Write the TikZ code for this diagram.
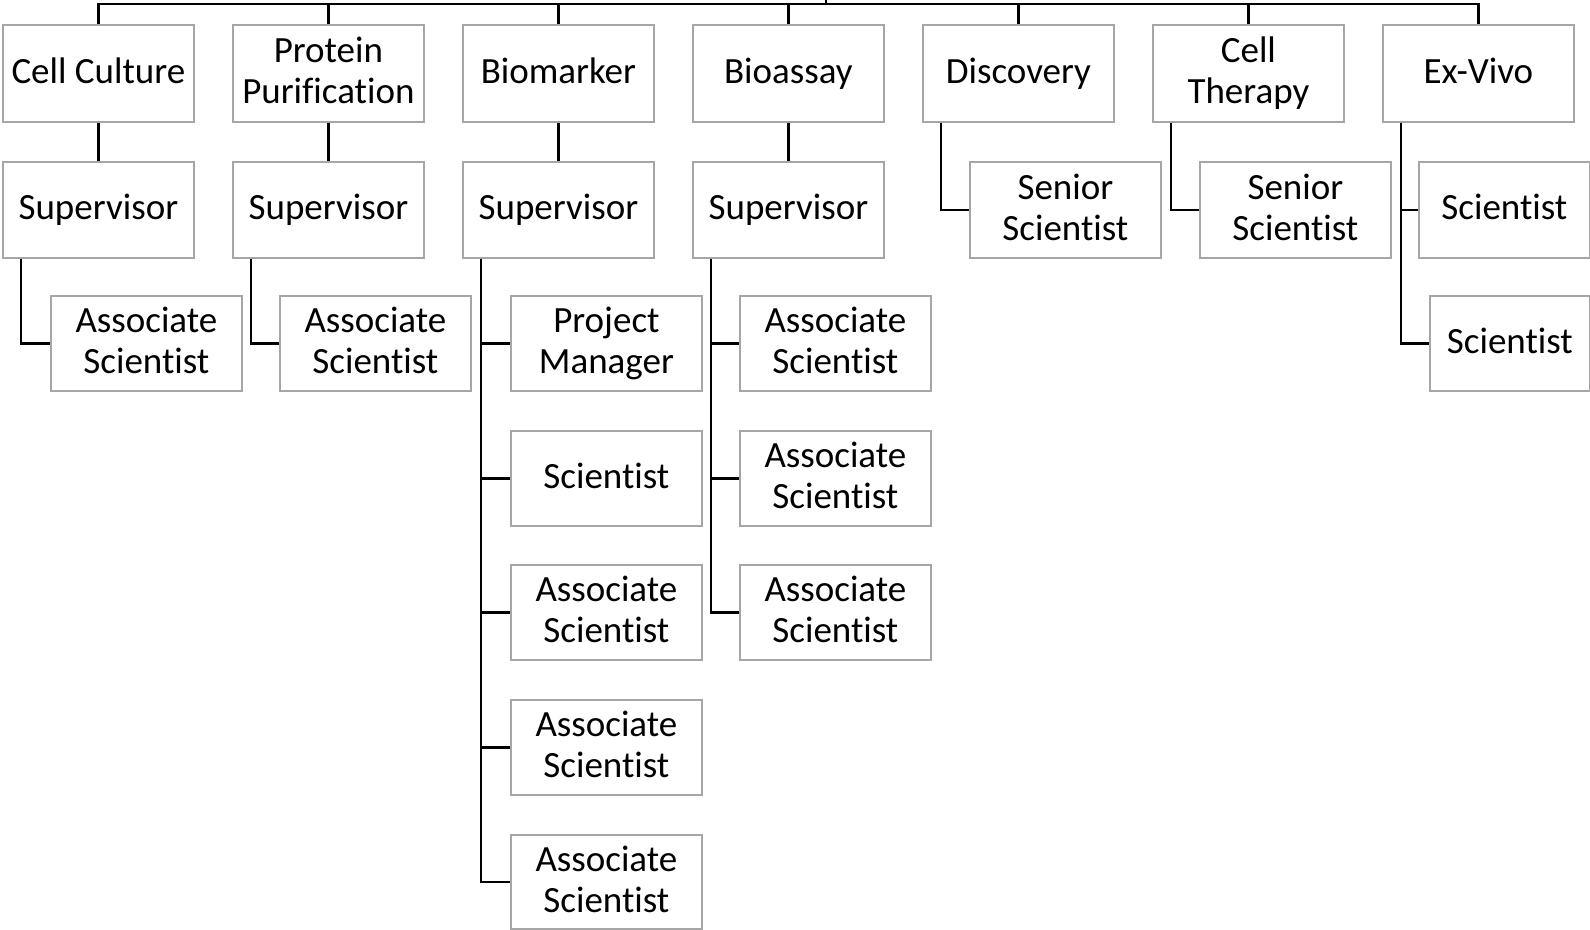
\documentclass[tikz,border=0pt]{standalone}
\usepackage{fontspec}
\setmainfont[Ligatures={NoCommon}]{Carlito}
\newcommand\nolig{\kern0pt }
\definecolor{boxgray}{RGB}{166,166,166}
\begin{document}
\begin{tikzpicture}[x=1pt,y=-1pt,
  orgbox/.style={draw=boxgray,line width=1.8pt,fill=white,anchor=north west,
    inner sep=0pt,align=center,minimum width=191pt,minimum height=96pt,
    font=\fontsize{37}{41}\selectfont,execute at begin node={\vphantom{p}}},
  link/.style={draw=black,line width=2.6pt}]
\useasboundingbox (0,0) rectangle (1590,929);
% top row
\node[orgbox,minimum height=97pt] (cc)  at (2,24)    {Cell Culture};
\node[orgbox,minimum height=97pt] (pp)  at (232,24)  {Protein\\Puri\nolig fication};
\node[orgbox,minimum height=97pt] (bm)  at (462,24)  {Biomarker};
\node[orgbox,minimum height=97pt] (ba)  at (692,24)  {Bioassay};
\node[orgbox,minimum height=97pt] (dc)  at (922,24)  {Discovery};
\node[orgbox,minimum height=97pt] (ct)  at (1152,24) {Cell\\Therapy};
\node[orgbox,minimum height=97pt] (ev)  at (1382,24) {Ex-Vivo};
% second row
\node[orgbox] (s1) at (2,161)    {Supervisor};
\node[orgbox] (s2) at (232,161)  {Supervisor};
\node[orgbox] (s3) at (462,161)  {Supervisor};
\node[orgbox] (s4) at (692,161)  {Supervisor};
\node[orgbox] (ss1) at (969,161)  {Senior\\Scient\nolig ist};
\node[orgbox] (ss2) at (1199,161) {Senior\\Scient\nolig ist};
\node[orgbox,minimum width=171pt] (ev1) at (1418,161) {Scient\nolig ist};
% children
\node[orgbox,minimum height=95pt] (a1) at (50,295)  {Associate\\Scient\nolig ist};
\node[orgbox,minimum height=95pt] (a2) at (279,295) {Associate\\Scient\nolig ist};
\node[orgbox,minimum height=95pt] (b1) at (510,295) {Project\\Manager};
\node[orgbox,minimum height=95pt] (b2) at (510,430) {Scient\nolig ist};
\node[orgbox,minimum height=95pt] (b3) at (510,564) {Associate\\Scient\nolig ist};
\node[orgbox,minimum height=95pt] (b4) at (510,699) {Associate\\Scient\nolig ist};
\node[orgbox,minimum height=94pt] (b5) at (510,834) {Associate\\Scient\nolig ist};
\node[orgbox,minimum height=95pt] (c1) at (739,295) {Associate\\Scient\nolig ist};
\node[orgbox,minimum height=95pt] (c2) at (739,430) {Associate\\Scient\nolig ist};
\node[orgbox,minimum height=95pt] (c3) at (739,564) {Associate\\Scient\nolig ist};
\node[orgbox,minimum width=160pt,minimum height=95pt] (ev2) at (1429,295) {Scient\nolig ist};
% top bus
\coordinate (bus) at (826,4);
\coordinate (apex) at (826,0);
\draw[link] (cc.north) -- (cc.north |- bus) -- (ev.north |- bus) -- (ev.north);
\foreach \n in {pp,bm,ba,dc,ct} \draw[link] (\n.north) -- (\n.north |- bus);
\draw[link] (apex) -- (bus);
% department to supervisor
\foreach \p/\c in {cc/s1,pp/s2,bm/s3,ba/s4} \draw[link] (\p.south) -- (\c.north);
% elbows
\draw[link] ([xshift=19pt]s1.south west) |- (a1.west);
\draw[link] ([xshift=19pt]s2.south west) |- (a2.west);
\draw[link] ([xshift=19pt]dc.south west) |- (ss1.west);
\draw[link] ([xshift=19pt]ct.south west) |- (ss2.west);
\draw[link] ([xshift=19pt]ev.south west) |- (ev2.west);
\draw[link] ([xshift=19pt]ev.south west |- ev1.west) -- (ev1.west);
\draw[link] ([xshift=19pt]s3.south west) |- (b5.west);
\foreach \c in {b1,b2,b3,b4} \draw[link] ([xshift=19pt]s3.south west |- \c.west) -- (\c.west);
\draw[link] ([xshift=19pt]s4.south west) |- (c3.west);
\foreach \c in {c1,c2} \draw[link] ([xshift=19pt]s4.south west |- \c.west) -- (\c.west);
\end{tikzpicture}
\end{document}
